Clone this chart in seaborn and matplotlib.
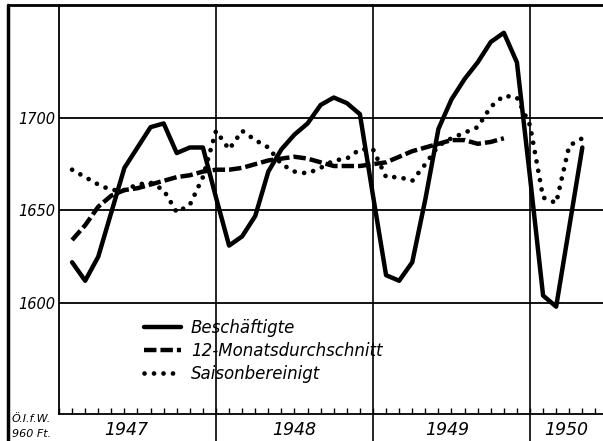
import numpy as np
import pandas as pd
import seaborn as sns
import matplotlib.pyplot as plt
from matplotlib.lines import Line2D

# Stand Monatsende, in 1000
monate = pd.period_range('1947-01', '1950-04', freq='M')

beschaeftigte = [1622, 1612, 1625, 1649, 1673, 1684, 1695, 1697, 1681, 1684, 1684, 1657,
                 1631, 1636, 1647, 1671, 1683, 1691, 1697, 1707, 1711, 1708, 1702, 1658,
                 1615, 1612, 1622, 1656, 1694, 1710, 1721, 1730, 1741, 1746, 1730, 1668,
                 1604, 1598, 1641, 1684]

# 12-Monatsdurchschnitt endet Oktober 1949
durchschnitt = [1634, 1642, 1652, 1658, 1661, 1662, 1664, 1666, 1668, 1669, 1671, 1672,
                1672, 1673, 1675, 1677, 1678, 1679, 1678, 1676, 1674, 1674, 1674, 1675,
                1676, 1679, 1682, 1684, 1686, 1688, 1688, 1686, 1687, 1689]

saisonbereinigt = [1672, 1668, 1664, 1661, 1661, 1664, 1665, 1661, 1649, 1653, 1668, 1693,
                   1683, 1693, 1688, 1684, 1675, 1671, 1670, 1673, 1677, 1678, 1683, 1683,
                   1668, 1668, 1666, 1675, 1685, 1689, 1692, 1695, 1706, 1712, 1711, 1696,
                   1657, 1654, 1685, 1689]

jahre = ['1947', '1948', '1949', '1950']
y_ticks = [1600, 1650, 1700]

x = np.asarray(monate.year + monate.month / 12, dtype=float)

sns.set_style('white')
plt.rcParams['font.family'] = ['DejaVu Sans']
plt.rcParams['text.color'] = 'black'
plt.rcParams['ytick.labelcolor'] = 'black'

fig = plt.figure(figsize=(6.03, 4.41), dpi=100)
ax = fig.add_axes([59 / 603, 27 / 441, 544 / 603, 409 / 441])

sns.lineplot(x=x, y=beschaeftigte, ax=ax, color='black', lw=3.2,
             label='Beschäftigte')
sns.lineplot(x=x[:len(durchschnitt)], y=durchschnitt, ax=ax, color='black', lw=3.2,
             linestyle=(0, (2.8, 0.9)), label='12-Monatsdurchschnitt')
sns.lineplot(x=x, y=saisonbereinigt, ax=ax, color='black', lw=3.4,
             linestyle=(0, (0.01, 2.0)), dash_capstyle='round', label='Saisonbereinigt')

ax.set_xlim(1947, 1947 + 544 / 157)
ax.set_ylim(1540, 1761)

for v in y_ticks:
    ax.axhline(v, color='black', lw=1.3, zorder=1)
for j in [1948, 1949, 1950]:
    ax.axvline(j, ymin=-0.07, ymax=1, color='black', lw=1.2, clip_on=False, zorder=1)

for s in ['top', 'right']:
    ax.spines[s].set_visible(False)
for s in ['left', 'bottom']:
    ax.spines[s].set_color('black')
    ax.spines[s].set_linewidth(1.3)

ax.set_yticks(y_ticks)
ax.set_yticklabels([str(v) for v in y_ticks], fontstyle='italic', fontsize=10.5, color='black')
ax.tick_params(axis='y', length=0, pad=3)

ax.set_xticks(np.arange(1947, 1950.5, 1 / 12), minor=True)
ax.set_xticks([])
ax.tick_params(axis='x', which='minor', direction='in', length=4, width=1, color='black', bottom=True)

for lab, pos in zip(jahre, [1947.43, 1948.5, 1949.47, 1950.23]):
    ax.text(pos, -0.04, lab, transform=ax.get_xaxis_transform(), ha='center', va='center',
            fontsize=12.5, fontstyle='italic', color='black')

ax.set_xlabel('')
ax.set_ylabel('')

leg = ax.legend(loc='upper left', bbox_to_anchor=(0.129, 0.27), frameon=False,
                handlelength=2.2, handletextpad=0.6, labelspacing=0.3,
                prop={'size': 12, 'style': 'italic'})

# Rahmen links und oben
fig.add_artist(Line2D([8 / 603, 8 / 603], [0, 1 - 5 / 441], color='black', lw=2.5))
fig.add_artist(Line2D([8 / 603, 1], [1 - 5 / 441, 1 - 5 / 441], color='black', lw=2))

fig.text(12 / 603, 1 - 419 / 441, 'Ö.I.f.W.', fontsize=8, fontstyle='italic', va='center')
fig.text(12 / 603, 1 - 434 / 441, '960 Ft.', fontsize=8, fontstyle='italic', va='center')

fig.savefig('out.png', dpi=100)
